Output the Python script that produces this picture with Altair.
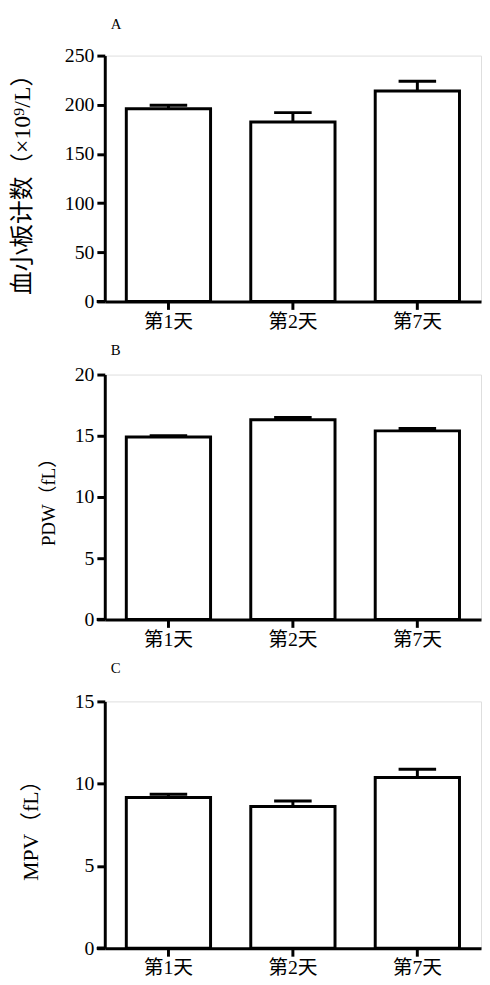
import altair as alt
import pandas as pd

days = ["第1天", "第2天", "第7天"]
plt_mean = [196, 182.5, 214]
plt_err = [3.5, 9.5, 10]
pdw_mean = [14.9, 16.3, 15.4]
pdw_err = [0.1, 0.2, 0.2]
mpv_mean = [9.16, 8.61, 10.38]
mpv_err = [0.2, 0.34, 0.5]

SERIF = "Liberation Serif, Noto Sans CJK SC"
W = 381


def panel(mean, err, label, ytitle, ymax, ystep, height, tpad, tsize, toff):
    df = pd.DataFrame({"day": days, "mean": mean, "top": [m + e for m, e in zip(mean, err)]})
    x = alt.X("day:N", sort=days, title=None,
              scale=alt.Scale(paddingInner=0.323, paddingOuter=0.173),
              axis=alt.Axis(labelAngle=0, labelFont=SERIF, labelFontSize=20, labelColor="black",
                            domainColor="black", domainWidth=3, tickColor="black", tickWidth=3,
                            tickSize=8, labelPadding=2))
    yscale = alt.Scale(domain=[0, ymax], nice=False)
    yaxis = alt.Axis(title=ytitle, values=list(range(0, ymax + 1, ystep)), grid=False,
                     labelFont=SERIF, labelFontSize=20, labelColor="black",
                     titleFont=SERIF, titleFontSize=tsize, titleFontWeight="normal", titleColor="black",
                     titlePadding=tpad, domainColor="black", domainWidth=3, tickColor="black",
                     tickWidth=3, tickSize=8, labelPadding=3)
    base = alt.Chart(df)
    err_line = base.mark_rule(color="black", strokeWidth=3).encode(
        x=x, y=alt.Y("mean:Q", scale=yscale, axis=yaxis), y2="top:Q")
    cap = base.mark_tick(color="black", size=38, thickness=3, opacity=1).encode(
        x=x, y=alt.Y("top:Q", scale=yscale))
    bars = base.mark_bar(fill="white", stroke="black", strokeWidth=3).encode(
        x=x, y=alt.Y("mean:Q", scale=yscale, axis=yaxis))
    ext = alt.Chart(df).mark_rule(color="black", strokeWidth=3).encode(
        x=alt.value(-8), x2=alt.value(0), y=alt.value(height))
    return alt.layer(err_line, cap, bars, ext).properties(
        width=W, height=height,
        title=alt.TitleParams(label, anchor="start", frame="group", dx=6, offset=toff, font=SERIF,
                              fontSize=15, fontWeight="normal", color="black"))


a = panel(plt_mean, plt_err, "A", "血小板计数（×10⁹/L）", 250, 50, 249, 30, 24, 14)
b = panel(pdw_mean, pdw_err, "B", "PDW（fL）", 20, 5, 248, 16, 19, 7)
c = panel(mpv_mean, mpv_err, "C", "MPV（fL）", 15, 5, 250, 32, 22, 16)

chart = alt.vconcat(a, b, c, spacing=10).properties(
    padding={"left": 2, "top": 2, "right": 0, "bottom": 0}
).configure_view(stroke=None).configure(background="white")

chart.save("out.html", embed_options={"renderer": "svg", "actions": False})
